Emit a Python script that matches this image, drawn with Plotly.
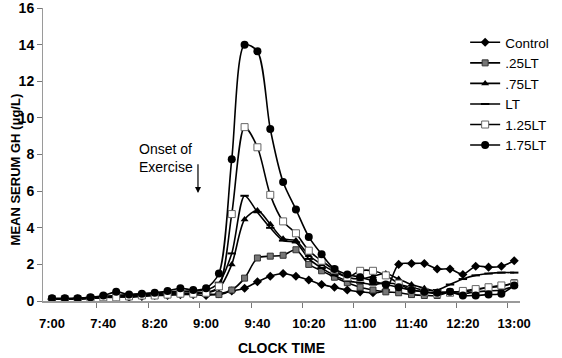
import plotly.graph_objects as go

# Clock times, 10-minute sampling from 7:00 to 13:00
times = ["7:00","7:10","7:20","7:30","7:40","7:50","8:00","8:10","8:20","8:30","8:40","8:50",
         "9:00","9:10","9:20","9:30","9:40","9:50","10:00","10:10","10:20","10:30","10:40","10:50",
         "11:00","11:10","11:20","11:30","11:40","11:50","12:00","12:10","12:20","12:30","12:40","12:50","13:00"]
tick_labels = ["7:00","7:40","8:20","9:00","9:40","10:20","11:00","11:40","12:20","13:00"]
y_ticks = [0, 2, 4, 6, 8, 10, 12, 14, 16]

control = [0.1,0.1,0.1,0.15,0.2,0.25,0.2,0.25,0.3,0.3,0.35,0.35,
           0.3,0.4,0.55,0.7,1.05,1.35,1.5,1.35,1.15,0.9,0.75,0.6,
           0.5,0.45,0.6,2.0,2.05,2.05,1.75,1.75,1.45,1.9,1.85,1.9,2.2]
lt025 = [0.1,0.1,0.1,0.15,0.2,0.3,0.25,0.3,0.35,0.4,0.4,0.45,
         0.4,0.35,0.6,1.25,2.35,2.45,2.5,2.8,2.0,1.65,1.3,1.0,
         0.75,0.6,0.5,0.45,0.35,0.3,0.3,0.5,0.5,0.6,0.75,0.8,1.0]
lt075 = [0.1,0.1,0.15,0.15,0.2,0.3,0.35,0.4,0.45,0.5,0.55,0.5,
         0.45,0.7,2.0,4.45,4.95,4.2,3.4,3.3,2.5,2.0,1.6,1.3,
         1.2,1.35,1.5,1.2,0.9,0.7,0.5,0.45,0.4,0.5,0.55,0.6,0.8]
lt100 = [0.1,0.1,0.15,0.2,0.25,0.3,0.3,0.35,0.4,0.45,0.5,0.55,
         0.6,1.0,2.6,5.75,4.85,4.0,3.3,3.2,2.3,1.8,1.4,1.1,
         1.0,0.9,1.0,0.9,0.75,0.6,0.6,0.9,1.2,1.4,1.5,1.55,1.55]
lt125 = [0.1,0.1,0.1,0.15,0.2,0.2,0.25,0.3,0.3,0.35,0.4,0.4,
         0.45,0.8,4.75,9.5,8.4,5.8,4.35,3.7,2.75,2.2,1.7,1.3,
         1.65,1.65,1.4,0.95,0.6,0.5,0.4,0.45,0.55,0.65,0.75,0.85,0.95]
lt175 = [0.15,0.15,0.15,0.2,0.3,0.5,0.35,0.4,0.45,0.55,0.7,0.6,
         0.7,1.5,7.75,14.0,13.65,9.4,6.5,5.0,3.5,2.55,1.75,1.45,
         1.3,1.1,0.9,0.75,0.6,0.5,0.45,0.5,0.3,0.3,0.35,0.4,0.85]

idx = list(range(len(times)))
label_pos = [times.index(t) for t in tick_labels]
boundary_ticks = [p - 0.5 for p in label_pos[1:]]

series = [
    ("Control", control, dict(symbol="diamond", size=7, color="black")),
    (".25LT", lt025, dict(symbol="square", size=6, color="#777777", line=dict(color="#333333", width=1))),
    (".75LT", lt075, dict(symbol="triangle-up", size=7, color="black")),
    ("LT", lt100, dict(symbol="line-ew", size=6, color="black", line=dict(color="black", width=2))),
    ("1.25LT", lt125, dict(symbol="square", size=7, color="white", line=dict(color="#666666", width=1))),
    ("1.75LT", lt175, dict(symbol="circle", size=8, color="black")),
]

fig = go.Figure()
for name, vals, mk in series:
    fig.add_trace(go.Scatter(x=idx, y=vals, name=name, mode="lines+markers",
                             line=dict(color="black", width=1.6, shape="spline", smoothing=0.8),
                             marker=mk, customdata=times))

font = "Liberation Sans, Arial, sans-serif"
fig.update_layout(
    width=562, height=358,
    margin=dict(l=43, r=42, t=8, b=57),
    paper_bgcolor="white", plot_bgcolor="white",
    font=dict(family=font, size=14, color="black"),
    showlegend=True,
    legend=dict(x=0.885, y=0.935, xanchor="left", yanchor="top",
                bgcolor="rgba(0,0,0,0)", font=dict(size=13.5), itemwidth=30,
                tracegroupgap=0),
    xaxis=dict(range=[-0.7, 36.45], showgrid=False, zeroline=False, automargin=False,
               showline=True, linecolor="#9a9a9a", linewidth=2,
               tickmode="array", tickvals=label_pos, ticktext=tick_labels,
               ticks="", ticklabelstandoff=9,
               tickfont=dict(size=13, family=font, weight="bold"),
               minor=dict(tickmode="array", tickvals=boundary_ticks, ticks="outside",
                          ticklen=5, tickcolor="#777777", tickwidth=1, showgrid=False),
               title=dict(text="<b>CLOCK TIME</b>", font=dict(size=14), standoff=14)),
    yaxis=dict(range=[0, 16.01], tickmode="array", tickvals=y_ticks, automargin=False,
               ticklabeloverflow="allow",
               showgrid=False, zeroline=False,
               showline=True, linecolor="#9a9a9a", linewidth=1,
               ticks="outside", ticklen=5, tickcolor="#777777",
               tickfont=dict(size=14, family=font, weight="bold")),
)

fig.add_annotation(text="<b>MEAN SERUM GH (μg/L)</b>", textangle=-90,
                   xref="paper", yref="paper", x=-0.078, y=0.45,
                   showarrow=False, font=dict(size=13))
fig.add_annotation(text="Onset of<br>Exercise", x=11.14, y=7.8, xref="x", yref="y",
                   xanchor="right", yanchor="middle", showarrow=False, align="left",
                   font=dict(size=14))
fig.add_annotation(text="", x=11.37, y=5.9, ax=11.37, ay=7.55, xref="x", yref="y",
                   axref="x", ayref="y", showarrow=True, arrowhead=2, arrowsize=1,
                   arrowwidth=1.2, arrowcolor="black")

fig.write_html("out.html", config={"displayModeBar": False},
               post_script="document.body.style.margin='0';")
